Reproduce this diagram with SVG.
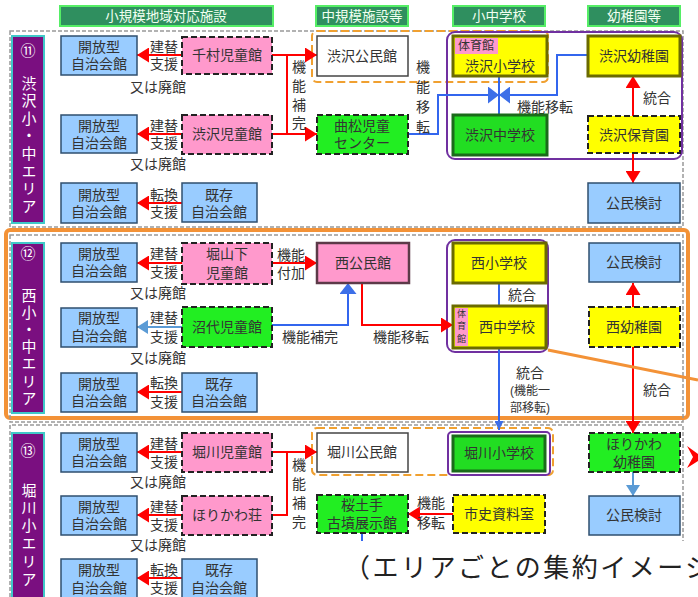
<svg xmlns="http://www.w3.org/2000/svg" width="698" height="597" viewBox="0 0 698 597">
<style>
.t{font-family:"Liberation Sans","Noto Sans CJK JP","Noto Sans CJK SC",sans-serif;font-size:14px;fill:#333;text-anchor:middle;dominant-baseline:central}
.v{writing-mode:vertical-rl;text-anchor:start}
.hd{fill:#f0fff0;font-size:13.5px}
.lb{fill:#fff;font-size:15px}
.sm{font-size:12px}
.xs{font-size:9px}
.hbox{fill:#2f8f5f;stroke:#55ee66;stroke-width:2}
.lbox{fill:#7a0f80;stroke:#40c8c8;stroke-width:2}
.open{fill:#99ccff;stroke:#2f4f6f;stroke-width:1.5}
.pink{fill:#ff99cc;stroke:#222;stroke-width:2;stroke-dasharray:6 3}
.grn{fill:#22ee22;stroke:#222;stroke-width:2;stroke-dasharray:6 3}
.yld{fill:#ffff00;stroke:#222;stroke-width:2;stroke-dasharray:6 3}
.sch{fill:#ffff00;stroke:#6b6b00;stroke-width:3}
.jhs{fill:#22dd22;stroke:#1a6b1a;stroke-width:3}
.wht{fill:#fff;stroke:#444;stroke-width:1.5}
.pnk{fill:#ff99cc;stroke:#5c3a48;stroke-width:2.5}
.gym{fill:#ff99cc}
.sec{fill:none;stroke:#999;stroke-width:1.5;stroke-dasharray:4 2}
.odash{fill:none;stroke:#f0a030;stroke-width:2;stroke-dasharray:8 4}
.purp{fill:none;stroke:#7030a0;stroke-width:2}
.r{fill:none;stroke:#ff0000;stroke-width:2}
.b{fill:none;stroke:#3366ee;stroke-width:2}
.lbl{fill:none;stroke:#5b9bd5;stroke-width:2}
</style>
<defs>
<marker id="ar" markerUnits="userSpaceOnUse" markerWidth="12" markerHeight="15" refX="12" refY="7.5" orient="auto"><path d="M0,0 L12,7.5 L0,15 z" fill="#ff0000"/></marker>
<marker id="ab" markerUnits="userSpaceOnUse" markerWidth="11" markerHeight="17" refX="11" refY="8.5" orient="auto"><path d="M0,0 L11,8.5 L0,17 z" fill="#3d6fe8"/></marker>
<marker id="abs" markerUnits="userSpaceOnUse" markerWidth="9" markerHeight="9" refX="9" refY="4.5" orient="auto"><path d="M0,0 L9,4.5 L0,9 z" fill="#3d6fe8"/></marker>
<marker id="alb" markerUnits="userSpaceOnUse" markerWidth="11" markerHeight="14" refX="11" refY="7" orient="auto"><path d="M0,0 L11,7 L0,14 z" fill="#5b9bd5"/></marker>
</defs>
<rect width="698" height="597" fill="#fff"/>

<!-- headers -->
<g id="headers">
<rect class="hbox" x="60" y="6" width="213" height="20"/><text class="t hd" x="166" y="16">小規模地域対応施設</text>
<rect class="hbox" x="316" y="6" width="92" height="20"/><text class="t hd" x="362" y="16">中規模施設等</text>
<rect class="hbox" x="453" y="6" width="92" height="20"/><text class="t hd" x="499" y="16">小中学校</text>
<rect class="hbox" x="588" y="6" width="92" height="20"/><text class="t hd" x="634" y="16">幼稚園等</text>
</g>

<!-- section frames -->
<g id="frames">
<rect class="sec" x="10" y="31" width="673" height="196"/>
<rect x="6" y="230" width="682" height="188" rx="4" fill="none" stroke="#f39237" stroke-width="4"/>
<rect class="sec" x="10" y="235" width="673" height="187"/>
<path class="sec" d="M10,597 V425 H683 V541"/>
<rect class="odash" x="312" y="31" width="236" height="51" rx="5"/>
<rect class="purp" x="447" y="32" width="235" height="127" rx="8"/>
<rect class="purp" x="447" y="240" width="101" height="112" rx="8"/>
<rect class="odash" x="312" y="428" width="241" height="47" rx="5"/>
</g>

<!-- connectors -->
<g id="connectors">
<path class="r" d="M182,55 H137" marker-end="url(#ar)"/>
<path class="r" d="M182,134 H137" marker-end="url(#ar)"/>
<path class="r" d="M182,203 H137" marker-end="url(#ar)"/>
<path class="r" d="M272,55 H317" marker-end="url(#ar)"/>
<path class="r" d="M287,55 V134"/>
<path class="r" d="M272,134 H317" marker-end="url(#ar)"/>
<path class="b" d="M408,134 H438 V95 H499" marker-end="url(#ab)"/>
<path class="b" d="M588,55 H557 V95 H499" marker-end="url(#ab)"/>
<path class="b" d="M499,76 V115"/>
<path class="r" d="M633,116 V76" marker-end="url(#ar)"/>
<path class="r" d="M633,153 V183" marker-end="url(#ar)"/>

<path class="r" d="M182,263 H137" marker-end="url(#ar)"/>
<path class="lbl" d="M182,327 H137" marker-end="url(#alb)"/>
<path class="r" d="M182,392 H137" marker-end="url(#ar)"/>
<path class="r" d="M272,263 H317" marker-end="url(#ar)"/>
<path class="b" d="M272,325 H348 V283" marker-end="url(#ab)"/>
<path class="r" d="M362,283 V325 H453" marker-end="url(#ar)"/>
<path class="b" d="M499,283 V306"/>
<path class="b" d="M499,348 V430" marker-end="url(#abs)"/>
<path class="r" d="M633,307 V283" marker-end="url(#ar)"/>
<path class="r" d="M633,347 V433" marker-end="url(#ar)"/>
<path d="M548,350 L698,380" stroke="#f39237" stroke-width="3" fill="none"/>

<path class="r" d="M182,452 H137" marker-end="url(#ar)"/>
<path class="r" d="M182,515 H137" marker-end="url(#ar)"/>
<path class="r" d="M182,578 H137" marker-end="url(#ar)"/>
<path class="r" d="M272,452 H317" marker-end="url(#ar)"/>
<path class="r" d="M287,452 V515 H272"/>
<path class="lbl" d="M633,472 V496" marker-end="url(#alb)"/>
<path class="r" d="M453,514 H408" marker-end="url(#ar)"/>
<path class="b" d="M362,533 V541"/>
<polygon points="687,446 698,454 698,461 687,468 693,457" fill="#ff0000"/>
</g>

<!-- connector labels -->
<g id="labels">
<text class="t"><tspan x="164" y="46.5">建替</tspan><tspan x="164" y="63.5">支援</tspan></text><text class="t" x="158" y="87">又は廃館</text>
<text class="t"><tspan x="164" y="125.5">建替</tspan><tspan x="164" y="142.5">支援</tspan></text><text class="t" x="158" y="164">又は廃館</text>
<text class="t"><tspan x="164" y="195">転換</tspan><tspan x="164" y="212">支援</tspan></text>
<text class="t v" x="298" y="60" letter-spacing="4.7">機能補完</text>
<text class="t v" x="422" y="60" letter-spacing="6">機能移転</text>
<text class="t" x="545" y="107">機能移転</text>
<text class="t" x="657" y="98">統合</text>

<text class="t"><tspan x="164" y="254">建替</tspan><tspan x="164" y="272">支援</tspan></text><text class="t" x="158" y="293">又は廃館</text>
<text class="t"><tspan x="164" y="318">建替</tspan><tspan x="164" y="337">支援</tspan></text><text class="t" x="158" y="358">又は廃館</text>
<text class="t"><tspan x="164" y="383">転換</tspan><tspan x="164" y="402">支援</tspan></text>
<text class="t"><tspan x="291" y="255">機能</tspan><tspan x="291" y="273">付加</tspan></text>
<text class="t" x="310" y="337">機能補完</text>
<text class="t" x="401" y="337">機能移転</text>
<text class="t" x="522" y="295">統合</text>
<text class="t"><tspan x="530" y="373">統合</tspan><tspan class="sm" x="530" y="391">(機能一</tspan><tspan class="sm" x="530" y="408">部移転)</tspan></text>
<text class="t" x="657" y="390">統合</text>

<text class="t"><tspan x="164" y="444">建替</tspan><tspan x="164" y="462">支援</tspan></text><text class="t" x="158" y="482">又は廃館</text>
<text class="t"><tspan x="164" y="507">建替</tspan><tspan x="164" y="525">支援</tspan></text><text class="t" x="158" y="545">又は廃館</text>
<text class="t"><tspan x="164" y="570">転換</tspan><tspan x="164" y="588">支援</tspan></text>
<text class="t v" x="298" y="458" letter-spacing="5">機能補完</text>
<text class="t"><tspan x="431" y="503">機能</tspan><tspan x="431" y="523">移転</tspan></text>
</g>

<!-- area labels -->
<g id="area11"><rect class="lbox" x="12" y="36" width="32" height="187"/>
<text class="t lb" x="28" y="50">⑪</text><text class="t lb v" x="28" y="75.5" letter-spacing="2.6">渋沢小・中エリア</text></g>
<g id="area12"><rect class="lbox" x="12" y="243" width="32" height="170"/>
<text class="t lb" x="28" y="253">⑫</text><text class="t lb v" x="28" y="287.5" letter-spacing="2.2">西小・中エリア</text></g>
<g id="area13"><rect class="lbox" x="12" y="433" width="32" height="170"/>
<text class="t lb" x="28" y="450">⑬</text><text class="t lb v" x="28" y="482.5" letter-spacing="2.8">堀川小エリア</text></g>

<!-- area 11 nodes -->
<g id="o11a"><rect class="open" x="61" y="36" width="76" height="39"/><text class="t"><tspan x="99" y="47">開放型</tspan><tspan x="99" y="64">自治会館</tspan></text></g>
<g id="chimura"><rect class="pink" x="182" y="37" width="90" height="37"/><text class="t" x="227" y="55">千村児童館</text></g>
<g id="o11b"><rect class="open" x="61" y="115" width="76" height="38"/><text class="t"><tspan x="99" y="126">開放型</tspan><tspan x="99" y="143">自治会館</tspan></text></g>
<g id="shibusawaJidokan"><rect class="pink" x="182" y="115" width="90" height="39"/><text class="t" x="227" y="134">渋沢児童館</text></g>
<g id="o11c"><rect class="open" x="61" y="183" width="76" height="40"/><text class="t"><tspan x="99" y="195">開放型</tspan><tspan x="99" y="212">自治会館</tspan></text></g>
<g id="k11"><rect class="open" x="182" y="183" width="75" height="39"/><text class="t"><tspan x="219" y="195">既存</tspan><tspan x="219" y="212">自治会館</tspan></text></g>
<g id="shibusawaKominkan"><rect class="wht" x="317" y="36" width="91" height="40"/><text class="t" x="362" y="56">渋沢公民館</text></g>
<g id="magarimatsu"><rect class="grn" x="317" y="115" width="91" height="39"/><text class="t"><tspan x="362" y="126">曲松児童</tspan><tspan x="362" y="143">センター</tspan></text></g>
<g id="shibusawaSho"><rect class="sch" x="453" y="36" width="94" height="40"/><rect class="gym" x="455" y="38" width="43" height="16"/><text class="t sm" x="476" y="46">体育館</text><text class="t" x="500" y="66">渋沢小学校</text></g>
<g id="shibusawaChu"><rect class="jhs" x="453" y="115" width="94" height="40"/><text class="t" x="500" y="135">渋沢中学校</text></g>
<g id="shibusawaYochien"><rect class="sch" x="588" y="36" width="92" height="40"/><text class="t" x="634" y="56">渋沢幼稚園</text></g>
<g id="shibusawaHoikuen"><rect class="yld" x="588" y="116" width="92" height="37"/><text class="t" x="634" y="135">渋沢保育園</text></g>
<g id="kominKento11"><rect class="open" x="588" y="183" width="92" height="40"/><text class="t" x="634" y="203">公民検討</text></g>

<!-- area 12 nodes -->
<g id="o12a"><rect class="open" x="61" y="243" width="76" height="39"/><text class="t"><tspan x="99" y="254">開放型</tspan><tspan x="99" y="271">自治会館</tspan></text></g>
<g id="horiyamashita"><rect class="pink" x="182" y="243" width="90" height="41"/><text class="t"><tspan x="227" y="254">堀山下</tspan><tspan x="227" y="273">児童館</tspan></text></g>
<g id="nishiKominkan"><rect class="pnk" x="317" y="243" width="92" height="40"/><text class="t" x="363" y="263">西公民館</text></g>
<g id="o12b"><rect class="open" x="61" y="308" width="76" height="39"/><text class="t"><tspan x="99" y="318">開放型</tspan><tspan x="99" y="336">自治会館</tspan></text></g>
<g id="numashiro"><rect class="grn" x="182" y="307" width="90" height="40"/><text class="t" x="227" y="327">沼代児童館</text></g>
<g id="o12c"><rect class="open" x="61" y="373" width="76" height="39"/><text class="t"><tspan x="99" y="384">開放型</tspan><tspan x="99" y="401">自治会館</tspan></text></g>
<g id="k12"><rect class="open" x="182" y="373" width="75" height="39"/><text class="t"><tspan x="219" y="384">既存</tspan><tspan x="219" y="401">自治会館</tspan></text></g>
<g id="nishiSho"><rect class="sch" x="453" y="243" width="93" height="40"/><text class="t" x="499" y="263">西小学校</text></g>
<g id="nishiChu"><rect class="sch" x="453" y="306" width="93" height="42"/><rect class="gym" x="455" y="308" width="13" height="38"/><text class="t xs v" x="461" y="309" letter-spacing="3.5">体育館</text><text class="t" x="507" y="327">西中学校</text></g>
<g id="kominKento12"><rect class="open" x="589" y="243" width="91" height="39"/><text class="t" x="634" y="262">公民検討</text></g>
<g id="nishiYochien"><rect class="yld" x="589" y="307" width="91" height="40"/><text class="t" x="634" y="327">西幼稚園</text></g>

<!-- area 13 nodes -->
<g id="o13a"><rect class="open" x="61" y="433" width="76" height="39"/><text class="t"><tspan x="99" y="444">開放型</tspan><tspan x="99" y="461">自治会館</tspan></text></g>
<g id="horikawaJidokan"><rect class="pink" x="182" y="433" width="90" height="39"/><text class="t" x="227" y="452">堀川児童館</text></g>
<g id="o13b"><rect class="open" x="61" y="496" width="76" height="39"/><text class="t"><tspan x="99" y="507">開放型</tspan><tspan x="99" y="524">自治会館</tspan></text></g>
<g id="horikawaso"><rect class="pink" x="182" y="496" width="90" height="39"/><text class="t" x="227" y="515">ほりかわ荘</text></g>
<g id="o13c"><rect class="open" x="61" y="559" width="76" height="40"/><text class="t"><tspan x="99" y="570">開放型</tspan><tspan x="99" y="588">自治会館</tspan></text></g>
<g id="k13"><rect class="open" x="182" y="559" width="75" height="40"/><text class="t"><tspan x="219" y="570">既存</tspan><tspan x="219" y="588">自治会館</tspan></text></g>
<g id="horikawaKominkan"><rect class="wht" x="317" y="433" width="91" height="39"/><text class="t" x="362" y="452">堀川公民館</text></g>
<g id="horikawaSho"><rect x="448" y="432" width="102" height="43" rx="4" fill="none" stroke="#7030a0" stroke-width="2"/><rect class="jhs" x="453" y="436" width="92" height="35"/><text class="t" x="499" y="453">堀川小学校</text></g>
<g id="horikawaYochien"><rect class="grn" x="589" y="433" width="91" height="39"/><text class="t"><tspan x="634" y="444">ほりかわ</tspan><tspan x="634" y="462">幼稚園</tspan></text></g>
<g id="kominKento13"><rect class="open" x="589" y="496" width="91" height="39"/><text class="t" x="634" y="515">公民検討</text></g>
<g id="sakuradote"><rect class="grn" x="317" y="495" width="91" height="38"/><text class="t"><tspan x="362" y="505">桜土手</tspan><tspan x="362" y="523">古墳展示館</tspan></text></g>
<g id="shishi"><rect class="yld" x="453" y="495" width="92" height="38"/><text class="t" x="499" y="514">市史資料室</text></g>

<text x="344" y="565" font-family="'Noto Sans CJK JP',sans-serif" font-size="26" letter-spacing="2.5" fill="#222" dominant-baseline="central">（エリアごとの集約イメージ</text>
</svg>
